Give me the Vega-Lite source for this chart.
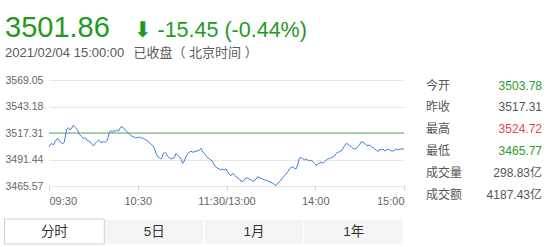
{
  "$schema": "https://vega.github.io/schema/vega-lite/v6.json",
  "background": "white",
  "padding": {"left": 4, "top": 0, "right": 2, "bottom": 0},
  "spacing": 12,
  "resolve": {"scale": {"color": "independent", "fill": "independent", "stroke": "independent"}},
  "config": {
    "font": "Liberation Sans, DejaVu Sans, Noto Sans CJK SC, sans-serif",
    "view": {"stroke": null},
    "axisY": {"labelOverlap": false}
  },
  "vconcat": [
    {
      "width": 260,
      "height": 62.75,
      "data": {"values": [
        {"line": "top", "col": "left", "part": "price", "text": "3501.86"},
        {"line": "top", "col": "right", "part": "change", "text": "⬇ -15.45 (-0.44%)"},
        {"line": "bottom", "col": "left", "part": "time", "text": "2021/02/04 15:00:00"},
        {"line": "bottom", "col": "right", "part": "status", "text": "已收盘（ 北京时间 ）"}
      ]},
      "encoding": {
        "x": {"field": "col", "type": "nominal", "scale": {"domain": ["left", "right"], "range": [-44, 84.5], "padding": 0}, "axis": null},
        "y": {"field": "line", "type": "nominal", "scale": {"domain": ["top", "bottom"], "range": [37, 57], "padding": 0}, "axis": null},
        "text": {"field": "text"}
      },
      "layer": [
        {"transform": [{"filter": "datum.part == 'price'"}], "mark": {"type": "text", "align": "left", "baseline": "alphabetic", "fontSize": 29, "color": "#1f9a1f"}},
        {"transform": [{"filter": "datum.part == 'change'"}], "mark": {"type": "text", "align": "left", "baseline": "alphabetic", "fontSize": 21.5, "color": "#1f9a1f"}},
        {"transform": [{"filter": "datum.part == 'time' || datum.part == 'status'"}], "mark": {"type": "text", "align": "left", "baseline": "alphabetic", "fontSize": 13, "color": "#5a5a5a"}}
      ]
    },
    {
      "bounds": "flush",
      "spacing": 22,
      "resolve": {"scale": {"color": "independent"}},
      "hconcat": [
        {
          "width": 355,
          "height": 106,
          "encoding": {
            "y": {
              "field": "price", "type": "quantitative",
              "scale": {"domain": [3465.57, 3569.05], "nice": false, "zero": false},
              "axis": {
                "title": null,
                "values": [3465.57, 3491.44, 3517.31, 3543.18, 3569.05],
                "format": ".2f",
                "domain": false,
                "ticks": false,
                "tickSize": 0,
                "grid": true,
                "gridColor": "#e6e6e6",
                "labelAlign": "left",
                "labelBaseline": "middle",
                "labelPadding": 44,
                "labelFontSize": 10.5,
                "labelColor": "#666666",
                "labelOverlap": false,
                "labelBound": false
              }
            }
          },
          "layer": [
            {
              "data": {"values": [{"series": "prev_close", "price": 3517.31}]},
              "mark": {"type": "rule", "color": "#5cab5c", "strokeWidth": 1}
            },
            {
              "data": {"values": [
                {"minute": 0, "price": 3503.78},
                {"minute": 1.8, "price": 3507.26},
                {"minute": 2.9, "price": 3505.6},
                {"minute": 4.3, "price": 3509.5},
                {"minute": 5.9, "price": 3512.14},
                {"minute": 7.4, "price": 3508.82},
                {"minute": 9.3, "price": 3506.86},
                {"minute": 10.3, "price": 3508.23},
                {"minute": 12.0, "price": 3521.21},
                {"minute": 13.0, "price": 3522.48},
                {"minute": 14.2, "price": 3520.24},
                {"minute": 14.9, "price": 3521.21},
                {"minute": 16.4, "price": 3524.72},
                {"minute": 17.8, "price": 3522.48},
                {"minute": 19.4, "price": 3520.24},
                {"minute": 20.5, "price": 3516.04},
                {"minute": 22.3, "price": 3513.7},
                {"minute": 23.2, "price": 3512.14},
                {"minute": 24.5, "price": 3512.72},
                {"minute": 25.5, "price": 3510.48},
                {"minute": 26.8, "price": 3509.5},
                {"minute": 27.7, "price": 3508.82},
                {"minute": 29.1, "price": 3506.28},
                {"minute": 30.0, "price": 3504.62},
                {"minute": 31.3, "price": 3507.26},
                {"minute": 32.3, "price": 3508.82},
                {"minute": 33.6, "price": 3510.48},
                {"minute": 34.5, "price": 3508.82},
                {"minute": 35.8, "price": 3507.84},
                {"minute": 36.7, "price": 3508.82},
                {"minute": 38.1, "price": 3508.23},
                {"minute": 39.0, "price": 3509.5},
                {"minute": 39.9, "price": 3512.72},
                {"minute": 40.8, "price": 3517.99},
                {"minute": 41.9, "price": 3519.56},
                {"minute": 43.1, "price": 3517.99},
                {"minute": 43.9, "price": 3519.95},
                {"minute": 44.8, "price": 3518.58},
                {"minute": 45.8, "price": 3520.24},
                {"minute": 47.1, "price": 3519.26},
                {"minute": 48.0, "price": 3521.9},
                {"minute": 48.9, "price": 3523.46},
                {"minute": 50.2, "price": 3522.48},
                {"minute": 51.6, "price": 3520.24},
                {"minute": 52.5, "price": 3518.58},
                {"minute": 53.9, "price": 3517.02},
                {"minute": 55.4, "price": 3514.67},
                {"minute": 57.0, "price": 3513.7},
                {"minute": 58.3, "price": 3512.72},
                {"minute": 60.0, "price": 3512.72},
                {"minute": 61.1, "price": 3513.5},
                {"minute": 62.2, "price": 3512.14},
                {"minute": 63.3, "price": 3512.72},
                {"minute": 64.4, "price": 3511.45},
                {"minute": 65.6, "price": 3510.48},
                {"minute": 66.7, "price": 3509.5},
                {"minute": 67.8, "price": 3508.23},
                {"minute": 69.0, "price": 3506.28},
                {"minute": 70.1, "price": 3504.91},
                {"minute": 71.2, "price": 3502.37},
                {"minute": 72.3, "price": 3497.49},
                {"minute": 73.5, "price": 3494.17},
                {"minute": 74.6, "price": 3493.2},
                {"minute": 75.7, "price": 3491.93},
                {"minute": 76.4, "price": 3493.2},
                {"minute": 77.3, "price": 3497.49},
                {"minute": 78.2, "price": 3498.47},
                {"minute": 79.1, "price": 3497.49},
                {"minute": 80.3, "price": 3494.17},
                {"minute": 81.3, "price": 3493.2},
                {"minute": 82.5, "price": 3491.93},
                {"minute": 83.6, "price": 3492.61},
                {"minute": 84.7, "price": 3493.2},
                {"minute": 85.9, "price": 3497.49},
                {"minute": 87.0, "price": 3495.83},
                {"minute": 88.1, "price": 3494.17},
                {"minute": 89.2, "price": 3491.93},
                {"minute": 90.4, "price": 3487.73},
                {"minute": 91.5, "price": 3489.98},
                {"minute": 92.6, "price": 3494.17},
                {"minute": 93.8, "price": 3497.49},
                {"minute": 94.9, "price": 3498.47},
                {"minute": 96.0, "price": 3499.74},
                {"minute": 97.2, "price": 3498.47},
                {"minute": 98.2, "price": 3499.05},
                {"minute": 99.4, "price": 3499.74},
                {"minute": 100.5, "price": 3499.74},
                {"minute": 101.6, "price": 3500.71},
                {"minute": 102.8, "price": 3502.37},
                {"minute": 103.9, "price": 3499.05},
                {"minute": 105.0, "price": 3497.49},
                {"minute": 106.1, "price": 3495.15},
                {"minute": 107.3, "price": 3493.2},
                {"minute": 108.4, "price": 3491.93},
                {"minute": 109.5, "price": 3490.95},
                {"minute": 110.7, "price": 3489.29},
                {"minute": 111.8, "price": 3486.07},
                {"minute": 112.9, "price": 3483.83},
                {"minute": 114.1, "price": 3482.85},
                {"minute": 115.1, "price": 3482.17},
                {"minute": 116.3, "price": 3481.19},
                {"minute": 117.4, "price": 3482.17},
                {"minute": 118.5, "price": 3481.19},
                {"minute": 119.7, "price": 3482.17},
                {"minute": 120.8, "price": 3478.95},
                {"minute": 121.9, "price": 3477.0},
                {"minute": 123.0, "price": 3475.63},
                {"minute": 124.2, "price": 3477.97},
                {"minute": 125.3, "price": 3476.31},
                {"minute": 126.4, "price": 3474.65},
                {"minute": 127.6, "price": 3473.67},
                {"minute": 128.7, "price": 3472.4},
                {"minute": 129.8, "price": 3470.45},
                {"minute": 131.0, "price": 3469.77},
                {"minute": 132.0, "price": 3471.43},
                {"minute": 133.2, "price": 3473.67},
                {"minute": 134.3, "price": 3473.09},
                {"minute": 135.4, "price": 3472.4},
                {"minute": 136.6, "price": 3471.43},
                {"minute": 137.7, "price": 3470.45},
                {"minute": 138.8, "price": 3470.45},
                {"minute": 140.0, "price": 3472.4},
                {"minute": 141.1, "price": 3474.65},
                {"minute": 142.2, "price": 3473.67},
                {"minute": 143.3, "price": 3473.09},
                {"minute": 144.5, "price": 3472.4},
                {"minute": 145.6, "price": 3471.43},
                {"minute": 146.7, "price": 3471.43},
                {"minute": 147.9, "price": 3470.45},
                {"minute": 148.9, "price": 3469.77},
                {"minute": 150.1, "price": 3469.18},
                {"minute": 151.2, "price": 3468.21},
                {"minute": 152.3, "price": 3467.23},
                {"minute": 153.5, "price": 3465.77},
                {"minute": 154.6, "price": 3468.21},
                {"minute": 155.7, "price": 3469.77},
                {"minute": 156.9, "price": 3471.43},
                {"minute": 158.0, "price": 3473.67},
                {"minute": 159.1, "price": 3475.63},
                {"minute": 160.2, "price": 3476.99},
                {"minute": 161.4, "price": 3479.53},
                {"minute": 162.5, "price": 3482.17},
                {"minute": 163.6, "price": 3483.44},
                {"minute": 164.8, "price": 3484.41},
                {"minute": 165.8, "price": 3482.85},
                {"minute": 167.0, "price": 3482.17},
                {"minute": 168.1, "price": 3486.07},
                {"minute": 169.2, "price": 3492.61},
                {"minute": 170.4, "price": 3493.2},
                {"minute": 171.5, "price": 3492.61},
                {"minute": 172.6, "price": 3490.95},
                {"minute": 173.8, "price": 3491.93},
                {"minute": 174.9, "price": 3490.95},
                {"minute": 176.0, "price": 3489.98},
                {"minute": 177.1, "price": 3490.95},
                {"minute": 178.3, "price": 3489.29},
                {"minute": 179.4, "price": 3487.73},
                {"minute": 180.5, "price": 3486.07},
                {"minute": 181.7, "price": 3486.75},
                {"minute": 182.7, "price": 3487.73},
                {"minute": 183.9, "price": 3489.0},
                {"minute": 185.2, "price": 3487.73},
                {"minute": 186.4, "price": 3489.29},
                {"minute": 187.5, "price": 3490.95},
                {"minute": 188.6, "price": 3491.93},
                {"minute": 189.8, "price": 3492.61},
                {"minute": 190.9, "price": 3493.2},
                {"minute": 192.0, "price": 3494.17},
                {"minute": 193.2, "price": 3495.15},
                {"minute": 194.2, "price": 3497.49},
                {"minute": 195.4, "price": 3498.47},
                {"minute": 196.5, "price": 3499.05},
                {"minute": 197.6, "price": 3499.74},
                {"minute": 198.8, "price": 3502.37},
                {"minute": 199.9, "price": 3504.91},
                {"minute": 201.0, "price": 3507.26},
                {"minute": 202.2, "price": 3506.28},
                {"minute": 203.3, "price": 3504.91},
                {"minute": 204.4, "price": 3503.94},
                {"minute": 205.5, "price": 3502.37},
                {"minute": 206.7, "price": 3501.69},
                {"minute": 207.8, "price": 3502.37},
                {"minute": 208.9, "price": 3503.94},
                {"minute": 210.1, "price": 3506.28},
                {"minute": 211.1, "price": 3508.82},
                {"minute": 212.3, "price": 3508.23},
                {"minute": 213.4, "price": 3507.26},
                {"minute": 214.5, "price": 3505.6},
                {"minute": 215.7, "price": 3504.91},
                {"minute": 216.8, "price": 3505.6},
                {"minute": 217.9, "price": 3503.94},
                {"minute": 219.1, "price": 3502.96},
                {"minute": 220.2, "price": 3501.69},
                {"minute": 221.3, "price": 3500.71},
                {"minute": 222.4, "price": 3499.05},
                {"minute": 223.6, "price": 3501.69},
                {"minute": 224.7, "price": 3500.71},
                {"minute": 225.8, "price": 3501.69},
                {"minute": 227.0, "price": 3499.74},
                {"minute": 228.1, "price": 3500.71},
                {"minute": 229.2, "price": 3501.69},
                {"minute": 230.4, "price": 3500.71},
                {"minute": 231.4, "price": 3499.74},
                {"minute": 232.6, "price": 3499.74},
                {"minute": 233.8, "price": 3500.71},
                {"minute": 234.8, "price": 3501.69},
                {"minute": 236.0, "price": 3500.71},
                {"minute": 237.1, "price": 3501.4},
                {"minute": 238.2, "price": 3501.69},
                {"minute": 240, "price": 3501.86}
              ]},
              "mark": {"type": "line", "color": "#3b7ddb", "strokeWidth": 1},
              "encoding": {
                "x": {
                  "field": "minute", "type": "quantitative",
                  "scale": {"domain": [0, 240], "nice": false},
                  "axis": {
                    "title": null,
                    "values": [0, 60, 120, 180, 240],
                    "labelExpr": "datum.value == 0 ? '09:30' : datum.value == 60 ? '10:30' : datum.value == 120 ? '11:30/13:00' : datum.value == 180 ? '14:00' : '15:00'",
                    "grid": false,
                    "domain": false,
                    "ticks": true,
                    "tickSize": 4,
                    "tickColor": "#cfcfcf",
                    "labelPadding": 5,
                    "labelFontSize": 11,
                    "labelColor": "#666666",
                    "labelOverlap": false,
                    "labelFlush": true
                  }
                }
              }
            }
          ]
        },
        {
          "width": 116,
          "height": 106,
          "data": {"values": [
            {"row": "今开", "part": "label", "text": "今开", "tone": "label"},
            {"row": "今开", "part": "value", "text": "3503.78", "tone": "down"},
            {"row": "昨收", "part": "label", "text": "昨收", "tone": "label"},
            {"row": "昨收", "part": "value", "text": "3517.31", "tone": "flat"},
            {"row": "最高", "part": "label", "text": "最高", "tone": "label"},
            {"row": "最高", "part": "value", "text": "3524.72", "tone": "up"},
            {"row": "最低", "part": "label", "text": "最低", "tone": "label"},
            {"row": "最低", "part": "value", "text": "3465.77", "tone": "down"},
            {"row": "成交量", "part": "label", "text": "成交量", "tone": "label"},
            {"row": "成交量", "part": "value", "text": "298.83亿", "tone": "flat"},
            {"row": "成交额", "part": "label", "text": "成交额", "tone": "label"},
            {"row": "成交额", "part": "value", "text": "4187.43亿", "tone": "flat"}
          ]},
          "encoding": {
            "x": {"field": "part", "type": "nominal", "scale": {"domain": ["label", "value"], "range": [0, 116], "padding": 0}, "axis": null},
            "y": {"field": "row", "type": "nominal", "scale": {"domain": ["今开", "昨收", "最高", "最低", "成交量", "成交额"], "range": [5.5, 115], "padding": 0}, "axis": null},
            "text": {"field": "text"},
            "color": {"field": "tone", "type": "nominal", "scale": {"domain": ["label", "flat", "up", "down"], "range": ["#555555", "#555555", "#e5434b", "#2a9a2a"]}, "legend": null}
          },
          "layer": [
            {"transform": [{"filter": "datum.part == 'label'"}], "mark": {"type": "text", "align": "left", "baseline": "middle", "fontSize": 12}},
            {"transform": [{"filter": "datum.part == 'value'"}], "mark": {"type": "text", "align": "right", "baseline": "middle", "fontSize": 12}}
          ]
        }
      ]
    },
    {
      "width": 355,
      "height": 25,
      "data": {"values": [
        {"tab": "5日", "state": "idle"},
        {"tab": "1月", "state": "idle"},
        {"tab": "1年", "state": "idle"},
        {"tab": "分时", "state": "active"}
      ]},
      "encoding": {
        "x": {"field": "tab", "type": "nominal", "sort": ["分时", "5日", "1月", "1年"], "scale": {"range": [-44.5, 354.5], "paddingInner": 0, "paddingOuter": 0}, "axis": null}
      },
      "layer": [
        {
          "mark": {"type": "rect", "strokeWidth": 1},
          "encoding": {
            "fill": {"field": "state", "type": "nominal", "scale": {"domain": ["active", "idle"], "range": ["#ffffff", "#f4f4f4"]}, "legend": null},
            "stroke": {"field": "state", "type": "nominal", "scale": {"domain": ["active", "idle"], "range": ["#d0d0d0", "#ffffff"]}, "legend": null}
          }
        },
        {
          "mark": {"type": "text", "fontSize": 13.5, "color": "#333333"},
          "encoding": {"text": {"field": "tab"}}
        }
      ]
    }
  ]
}
